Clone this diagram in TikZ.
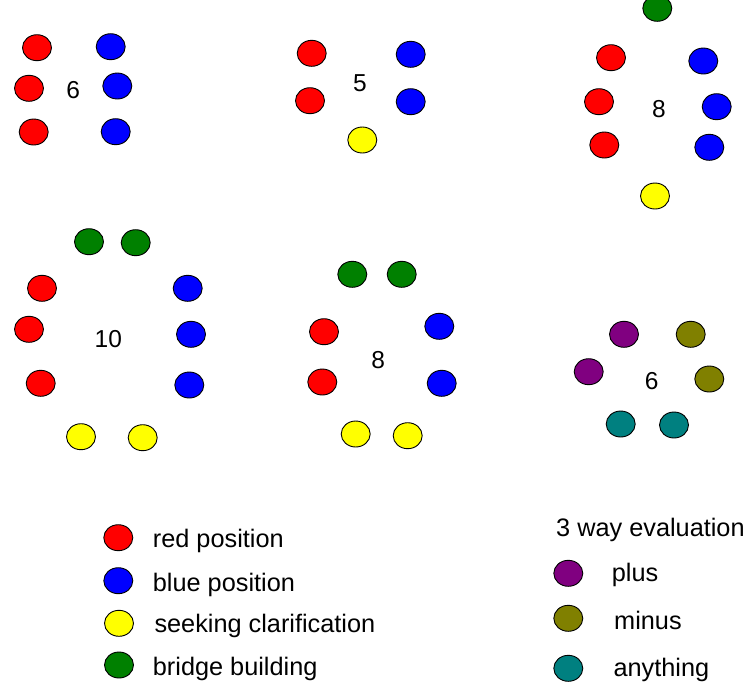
\documentclass[tikz,border=0pt]{standalone}
\usepackage{fontspec}
\setmainfont{Liberation Sans}
\usetikzlibrary{shapes.geometric}
\definecolor{cred}{HTML}{FF0000}
\definecolor{cblue}{HTML}{0000FF}
\definecolor{cyel}{HTML}{FFFF00}
\definecolor{cgreen}{HTML}{008000}
\definecolor{cpurple}{HTML}{800080}
\definecolor{colive}{HTML}{808000}
\definecolor{cteal}{HTML}{008080}
\tikzset{
  dot/.style={ellipse, draw=black, line width=0.9pt, minimum width=29pt, minimum height=26pt, inner sep=0pt},
  rd/.style={dot, fill=cred},
  bl/.style={dot, fill=cblue},
  ye/.style={dot, fill=cyel},
  gr/.style={dot, fill=cgreen},
  pu/.style={dot, fill=cpurple},
  ol/.style={dot, fill=colive},
  te/.style={dot, fill=cteal},
  num/.style={inner sep=0pt, font=\fontsize{24.5}{28}\selectfont},
  lab/.style={inner sep=0pt, anchor=base west, font=\fontsize{25.3}{29}\selectfont}
}
\begin{document}
\begin{tikzpicture}[x=1pt,y=-1pt]
\useasboundingbox (0,0) rectangle (747,681);
% group 1
\node[rd] (a1) at (37,47.7) {};
\node[bl] (a2) at (110.7,46.7) {};
\node[rd] (a3) at (29,88.3) {};
\node[bl] (a4) at (117.3,86) {};
\node[rd] (a5) at (33.7,132) {};
\node[bl] (a6) at (115.7,131.7) {};
\node[num] (an) at (73.3,90) {6};
% group 2
\node[rd] (b1) at (311.7,53.3) {};
\node[bl] (b2) at (410.7,54.3) {};
\node[rd] (b3) at (310,100.7) {};
\node[bl] (b4) at (410.7,101.7) {};
\node[ye] (b5) at (362.3,140) {};
\node[num] (bn) at (360,82.7) {5};
% group 3
\node[gr] (c0) at (657.3,8.3) {};
\node[rd] (c1) at (611,57.7) {};
\node[bl] (c2) at (703.3,61) {};
\node[rd] (c3) at (599,101.7) {};
\node[bl] (c4) at (716.7,106.7) {};
\node[rd] (c5) at (604.3,145) {};
\node[bl] (c6) at (709.3,147.3) {};
\node[ye] (c7) at (655,196) {};
\node[num] (cn) at (659,109) {8};
% group 4
\node[gr] (d1) at (89,241.7) {};
\node[gr] (d2) at (135.7,242.7) {};
\node[rd] (d3) at (42,288.3) {};
\node[bl] (d4) at (187.7,288.3) {};
\node[rd] (d5) at (29,329.3) {};
\node[bl] (d6) at (191,334.3) {};
\node[rd] (d7) at (40.7,383.3) {};
\node[bl] (d8) at (189.3,385) {};
\node[ye] (d9) at (81,436.7) {};
\node[ye] (d10) at (142.7,437.7) {};
\node[num] (dn) at (108.3,339) {10};
% group 5
\node[gr] (e1) at (352.3,274.3) {};
\node[gr] (e2) at (401.7,274.3) {};
\node[rd] (e3) at (324,331.7) {};
\node[bl] (e4) at (439.3,326.3) {};
\node[rd] (e5) at (322.3,382) {};
\node[bl] (e6) at (441.7,383.3) {};
\node[ye] (e7) at (355.7,434) {};
\node[ye] (e8) at (407.7,435.7) {};
\node[num] (en) at (378.3,360) {8};
% group 6
\node[pu] (f1) at (624,334.3) {};
\node[ol] (f2) at (690.7,334.3) {};
\node[pu] (f3) at (588.7,371.7) {};
\node[ol] (f4) at (709.3,379) {};
\node[te] (f5) at (620.7,424) {};
\node[te] (f6) at (674,425) {};
\node[num] (fn) at (651.7,381) {6};
% legend left
\node[rd] (l1) at (118.3,537.7) {};
\node[lab] (l1t) at (152.7,547.3) {red position};
\node[bl] (l2) at (118.3,580.7) {};
\node[lab] (l2t) at (152.7,591.5) {blue position};
\node[ye] (l3) at (119,623.3) {};
\node[lab] (l3t) at (154.3,632) {seeking clarification};
\node[gr] (l4) at (119,665) {};
\node[lab] (l4t) at (152.7,675.7) {bridge building};
% legend right
\node[lab] (r0) at (556,536) {3 way evaluation};
\node[pu] (r1) at (568.3,573.3) {};
\node[lab] (r1t) at (611.7,581) {plus};
\node[ol] (r2) at (568.3,618.3) {};
\node[lab] (r2t) at (614,629.3) {minus};
\node[te] (r3) at (568.3,668.3) {};
\node[lab] (r3t) at (613.3,676) {anything};
\end{tikzpicture}
\end{document}
